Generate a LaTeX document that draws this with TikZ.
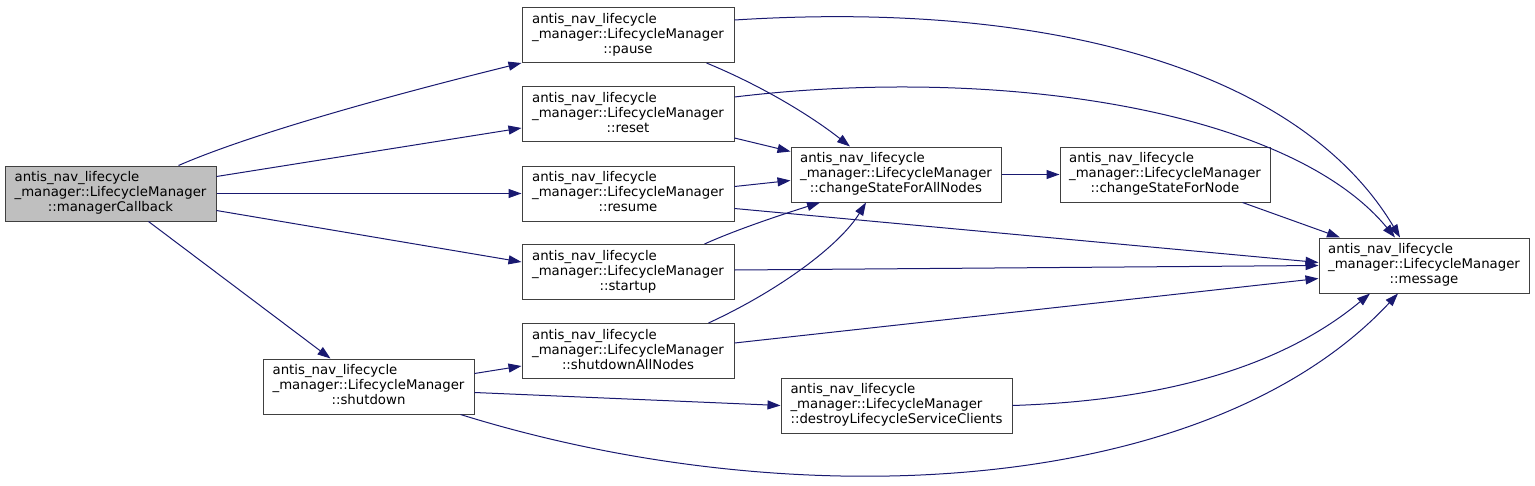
\documentclass[tikz,border=0pt]{standalone}
\usepackage{fontspec}
\setmainfont{DejaVu Sans}
\usepackage{tikz}
\usetikzlibrary{arrows.meta}
\definecolor{edgeblue}{HTML}{191970}
\definecolor{rootgray}{HTML}{BFBFBF}
\definecolor{boxline}{HTML}{404040}
\tikzset{
  fnbox/.style   = {draw=boxline,line width=1pt,rectangle,minimum height=55pt,inner sep=0pt,
                    font=\fontsize{13.3}{15}\selectfont},
  rootbox/.style = {fnbox,fill=rootgray},
  callarr/.style = {-{Triangle[length=13pt,width=9pt]},edgeblue,line width=1pt}
}
\newcommand{\lcm}[1]{%
  \begin{tabular}{@{}l@{}}antis\_nav\_lifecycle\\\_manager::LifecycleManager\\\multicolumn{1}{@{}c@{}}{#1}\end{tabular}}

\begin{document}
\begin{tikzpicture}[x=1pt,y=1pt]
  \useasboundingbox (0,0) rectangle (1535,-485);
  % functions
  \node[rootbox,minimum width=211pt] (mcb)    at (110.5,-193.5) {\lcm{::managerCallback}};
  \node[fnbox,minimum width=212pt]   (pause)  at (628,-35)     {\lcm{::pause}};
  \node[fnbox,minimum width=212pt]   (reset)  at (628,-114)    {\lcm{::reset}};
  \node[fnbox,minimum width=212pt]   (resume) at (628,-193.5)  {\lcm{::resume}};
  \node[fnbox,minimum width=212pt]   (start)  at (628,-272)    {\lcm{::startup}};
  \node[fnbox,minimum width=212pt]   (sdall)  at (628,-351)    {\lcm{::shutdownAllNodes}};
  \node[fnbox,minimum width=211pt]   (sdown)  at (368.5,-386.5) {\lcm{::shutdown}};
  \node[fnbox,minimum width=210pt]   (csfan)  at (896,-174.5)  {\lcm{::changeStateForAllNodes}};
  \node[fnbox,minimum width=210pt]   (csfn)   at (1165,-174.5) {\lcm{::changeStateForNode}};
  \node[fnbox,minimum width=231pt]   (destroy) at (896.5,-405.5) {\lcm{::destroyLifecycleServiceClients}};
  \node[fnbox,minimum width=210pt]   (msg)    at (1424,-265.5) {\lcm{::message}};

  % calls from managerCallback
  \draw[callarr] ([xshift=-38pt]mcb.north east) .. controls (260,-130) and (420,-88) .. (pause.south west);
  \draw[callarr] ([yshift=17pt]mcb.east) -- ([yshift=-14pt]reset.west);
  \draw[callarr] (mcb.east) -- (resume.west);
  \draw[callarr] ([yshift=-17pt]mcb.east) -- ([yshift=10pt]start.west);
  \draw[callarr] ([xshift=-68pt]mcb.south east) -- ([xshift=-38pt]sdown.north);

  % calls into changeStateForAllNodes
  \draw[callarr] ([xshift=-28pt]pause.south east) .. controls (760,-85) and (810,-115) .. ([xshift=-46pt]csfan.north);
  \draw[callarr] ([yshift=-24pt]reset.east) -- ([yshift=23pt]csfan.west);
  \draw[callarr] ([yshift=7pt]resume.east) -- ([yshift=-6pt]csfan.west);
  \draw[callarr] ([xshift=-30pt]start.north east) .. controls (740,-228) and (790,-212) .. ([xshift=-76pt]csfan.south);
  \draw[callarr] ([xshift=-26pt]sdall.north east) .. controls (780,-290) and (840,-245) .. ([xshift=-30pt]csfan.south);
  \draw[callarr] (csfan.east) -- (csfn.west);

  % calls into message
  \draw[callarr] ([yshift=15pt]pause.east) .. controls (1050,0) and (1300,-70) .. ([xshift=-24pt]msg.north);
  \draw[callarr] ([yshift=17pt]reset.east) .. controls (1000,-65) and (1290,-110) .. ([xshift=-29pt]msg.north);
  \draw[callarr] ([yshift=-15pt]resume.east) -- ([yshift=3pt]msg.west);
  \draw[callarr] ([yshift=2pt]start.east) -- (msg.west);
  \draw[callarr] ([yshift=8pt]sdall.east) -- ([yshift=-13pt]msg.west);
  \draw[callarr] ([xshift=-28pt]csfn.south east) -- ([xshift=-84pt]msg.north);
  \draw[callarr] (destroy.east) .. controls (1180,-400) and (1290,-360) .. ([xshift=-54pt]msg.south);
  \draw[callarr] ([xshift=-14pt]sdown.south east) .. controls (800,-520) and (1210,-495) .. ([xshift=-26pt]msg.south);

  % calls from shutdown
  \draw[callarr] ([yshift=13pt]sdown.east) -- ([yshift=-15pt]sdall.west);
  \draw[callarr] ([yshift=-6pt]sdown.east) -- (destroy.west);
\end{tikzpicture}
\end{document}
